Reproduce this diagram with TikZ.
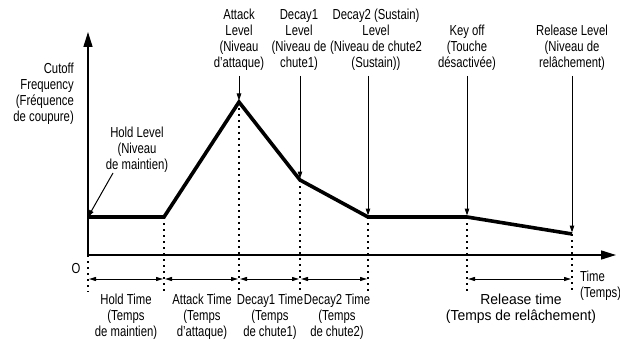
\documentclass[tikz,border=0pt]{standalone}
\usepackage{fontspec}
\setmainfont{Liberation Sans}[FakeStretch=0.78]
\newfontfamily\widefont{Liberation Sans}[FakeStretch=0.96]
\usetikzlibrary{arrows.meta}
\begin{document}
\begin{tikzpicture}[x=1pt,y=-1pt,
  txt/.style={font=\fontsize{14.5}{16}\selectfont, inner sep=0pt, align=center},
  axis/.style={line width=1.5pt, -{Triangle[length=15pt,width=9pt]}},
  env/.style={line width=3.6pt, line join=miter},
  pin/.style={line width=1pt, -{Triangle[length=7pt,width=4.5pt]}},
  dim/.style={line width=1pt, {Triangle[length=7pt,width=4pt]}-{Triangle[length=7pt,width=4pt]}, shorten <=1pt, shorten >=1pt},
  guide/.style={line width=1.8pt, dash pattern=on 1.8pt off 4.2pt}
]
\useasboundingbox (0,0) rectangle (620,339);

% envelope break points
\coordinate (O)  at (88,255);
\coordinate (P0) at (88,217);
\coordinate (P1) at (164,217);
\coordinate (P2) at (239,102);
\coordinate (P3) at (300,180);
\coordinate (P4) at (368,217);
\coordinate (P5) at (467,217);
\coordinate (P6) at (572,234);
\coordinate (Ytop) at (88,32);
\coordinate (Xend) at (616,255);
\coordinate (G) at (0,292);   % bottom of the guide lines
\coordinate (D) at (0,279);   % height of the duration arrows

% dotted guides
\draw[guide] (O)  -- (O |- G);
\foreach \p in {P1,P2,P3,P4,P5,P6}
  \draw[guide] (\p) -- (\p |- G);

% axes
\draw[axis] (O) -- (Ytop);
\draw[axis] (O) -- (Xend);

% envelope
\draw[env] (P0) -- (P1) -- (P2) -- (P3) -- (P4) -- (P5) -- (P6);

% duration arrows
\draw[dim] (O  |- D) -- (P1 |- D);
\draw[dim] (P1 |- D) -- (P2 |- D);
\draw[dim] (P2 |- D) -- (P3 |- D);
\draw[dim] (P3 |- D) -- (P4 |- D);
\draw[dim] (P5 |- D) -- (P6 |- D);

% axis labels
\node[txt, align=right, anchor=north east] (lCut) at (74,63)
  {Cutoff\\Frequency\\(Fréquence\\de coupure)};
\node[txt] (lO) at (76,269) {O};
\node[txt, align=left, anchor=north west] (lTime) at (580,271) {Time\\(Temps)};

% level labels
\node[txt, anchor=north] (lHold) at (137,127) {Hold Level\\(Niveau\\de maintien)};
\coordinate (hStart) at (113,173);
\node[txt, anchor=south] (lAtk) at (239,71) {Attack\\Level\\(Niveau\\d'attaque)};
\node[txt, anchor=south] (lDc1) at (299,71) {Decay1\\Level\\(Niveau de\\chute1)};
\node[txt, anchor=south] (lDc2) at (376,71) {Decay2 (Sustain)\\Level\\(Niveau de chute2\\(Sustain))};
\node[txt, anchor=south] (lKey) at (467,71) {Key off\\(Touche\\désactivée)};
\node[txt, anchor=south] (lRel) at (572,71) {Release Level\\(Niveau de\\relâchement)};

\draw[pin] (hStart) -- (P0);
\draw[pin, shorten >=1.5pt] (lAtk.south |- 0,76) -- (P2);
\draw[pin, shorten >=1.5pt] (P3 |- 0,76) -- (P3);
\draw[pin, shorten >=1.5pt] (P4 |- 0,76) -- (P4);
\draw[pin, shorten >=1.5pt] (lKey.south |- 0,76) -- (P5);
\draw[pin, shorten >=1.5pt] (lRel.south |- 0,76) -- (P6);

% duration labels
\node[txt, anchor=north] (tHold) at (126,294) {Hold Time\\(Temps\\de maintien)};
\node[txt, anchor=north] (tAtk)  at (202,294) {Attack Time\\(Temps\\d'attaque)};
\node[txt, anchor=north] (tDc1)  at (270,294) {Decay1 Time\\(Temps\\de chute1)};
\node[txt, anchor=north] (tDc2)  at (337,294) {Decay2 Time\\(Temps\\de chute2)};
\node[txt, anchor=north, font=\widefont\fontsize{14.5}{16}\selectfont] (tRel) at (521,294)
  {Release time\\(Temps de relâchement)};
\end{tikzpicture}
\end{document}
